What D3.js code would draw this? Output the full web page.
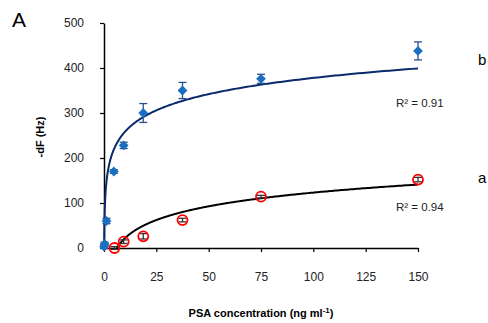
<!DOCTYPE html>
<html>
<head>
<meta charset="utf-8">
<script src="https://cdn.jsdelivr.net/npm/d3@7"></script>
<style>
  body { margin: 0; background: #fff; }
  svg { font-family: "Liberation Sans", Arial, sans-serif; }
</style>
</head>
<body>
<div id="chart"></div>
<script>
// series b (blue diamonds)
const concB = [0, 0.3, 1.2, 4.7, 9.4, 18.75, 37.5, 75, 150];
const dfB = [3, 9, 60, 170, 228, 300, 350, 376, 438];
const errB = [4, 4, 6, 4, 7, 21, 18, 10, 20];
// series a (red circles)
const concA = [5, 9.4, 18.75, 37.5, 75, 150];
const dfA = [0, 14, 26, 62, 114, 152];
const errA = [3, 4, 6, 4, 3, 5];
// log fits y = k*ln(x) + c
const fitB = { k: 52, c: 138.5, from: 0.07, to: 150, r2: "R² = 0.91" };
const fitA = { k: 44, c: -79.5, from: 6.1, to: 150, r2: "R² = 0.94" };
const xTicks = [0, 25, 50, 75, 100, 125, 150];
const yTicks = [0, 100, 200, 300, 400, 500];

const W = 488, H = 323;
const svg = d3.select("#chart").append("svg").attr("width", W).attr("height", H);

const x = d3.scaleLinear().domain([0, 150]).range([104, 418]);
const y = d3.scaleLinear().domain([0, 500]).range([248, 23]);

// axes
const xAxis = svg.append("g").attr("transform", `translate(0,${y(0)})`)
  .call(d3.axisBottom(x).tickValues(xTicks).tickSizeInner(4).tickSizeOuter(0).tickPadding(20));
const yAxis = svg.append("g").attr("transform", `translate(${x(0)},0)`)
  .call(d3.axisLeft(y).tickValues(yTicks).tickSizeInner(4).tickSizeOuter(0).tickPadding(16));
[xAxis, yAxis].forEach((g) => {
  g.select(".domain").attr("stroke", "#000").attr("stroke-width", 1.5);
  g.selectAll(".tick line").attr("stroke", "#000").attr("stroke-width", 1.2);
  g.selectAll("text").attr("font-size", 12).attr("fill", "#222")
    .attr("font-family", "Liberation Sans, Arial, sans-serif");
});

// fitted curves
function curve(f) {
  const pts = d3.range(0, 401).map((i) => {
    const xv = f.from * Math.pow(f.to / f.from, i / 400);
    return [xv, Math.max(0, f.k * Math.log(xv) + f.c)];
  });
  return d3.line().x((d) => x(d[0])).y((d) => y(d[1]))(pts);
}
svg.append("path").attr("d", curve(fitB)).attr("fill", "none")
  .attr("stroke", "#0b2a6b").attr("stroke-width", 2);
svg.append("path").attr("d", curve(fitA)).attr("fill", "none")
  .attr("stroke", "#000").attr("stroke-width", 2);

// error bars
function errBars(conc, vals, errs, color) {
  const g = svg.append("g").attr("stroke", color).attr("stroke-width", 1.3);
  conc.forEach((c, i) => {
    const cx = x(c), y1 = y(vals[i] + errs[i]), y2 = y(vals[i] - errs[i]);
    g.append("line").attr("x1", cx).attr("x2", cx).attr("y1", y1).attr("y2", y2);
    g.append("line").attr("x1", cx - 4).attr("x2", cx + 4).attr("y1", y1).attr("y2", y1);
    g.append("line").attr("x1", cx - 4).attr("x2", cx + 4).attr("y1", y2).attr("y2", y2);
  });
}

// series a markers
errBars(concA, dfA, errA, "#333");
svg.append("g").selectAll("circle").data(concA).join("circle")
  .attr("cx", (d) => x(d)).attr("cy", (d, i) => y(dfA[i])).attr("r", 5)
  .attr("fill", "none").attr("stroke", "#ff0000").attr("stroke-width", 1.8);

// series b markers
errBars(concB, dfB, errB, "#2a4f8a");
svg.append("g").selectAll("path").data(concB).join("path")
  .attr("d", d3.symbol(d3.symbolSquare, 48))
  .attr("transform", (d, i) => `translate(${x(d)},${y(dfB[i])}) rotate(45)`)
  .attr("fill", "#1b6fc0");

// labels
svg.append("text").attr("x", 12).attr("y", 27).attr("font-size", 21).text("A");
svg.append("text").attr("x", 478).attr("y", 65).attr("font-size", 15).text("b");
svg.append("text").attr("x", 478).attr("y", 183).attr("font-size", 15).text("a");
svg.append("text").attr("x", 396).attr("y", 107).attr("font-size", 11.5).attr("fill", "#222").text(fitB.r2);
svg.append("text").attr("x", 396).attr("y", 211).attr("font-size", 11.5).attr("fill", "#222").text(fitA.r2);

svg.append("text").attr("transform", "translate(44,137) rotate(-90)")
  .attr("text-anchor", "middle").attr("font-size", 11).attr("font-weight", "bold").text("-dF (Hz)");
const xt = svg.append("text").attr("x", 261).attr("y", 317)
  .attr("text-anchor", "middle").attr("font-size", 11).attr("font-weight", "bold");
xt.append("tspan").text("PSA concentration (ng ml");
xt.append("tspan").attr("font-size", 8).attr("dy", -4).text("-1");
xt.append("tspan").attr("dy", 4).text(")");
</script>
</body>
</html>
